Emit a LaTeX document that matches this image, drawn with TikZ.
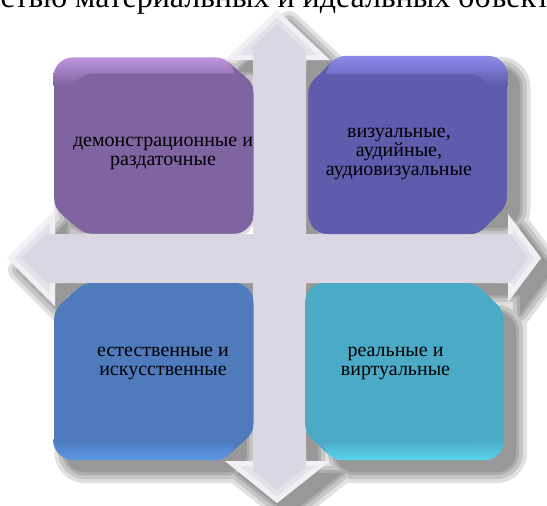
\documentclass[tikz,border=0pt]{standalone}
\usepackage{fontspec}
\setmainfont{Liberation Serif}
\usepackage{tikz}
\usetikzlibrary{backgrounds,calc,positioning}
\definecolor{tlbase}{HTML}{8064A2}
\definecolor{tllight}{HTML}{D4A6F2}
\definecolor{trbase}{HTML}{5F5BAD}
\definecolor{trlight}{HTML}{9C9CFF}
\definecolor{blbase}{HTML}{4F7BBD}
\definecolor{bllight}{HTML}{5EA6F8}
\definecolor{brbase}{HTML}{4BABC6}
\definecolor{brlight}{HTML}{60E8FF}
\definecolor{crossfill}{HTML}{DAD6E4}
\tikzset{%
    tile/.style={rounded corners=20pt,minimum width=181pt,minimum height=160pt,inner sep=0pt,
        align=center,text=black,font=\fontsize{20}{19}\selectfont},
}
\tikzstyle{bevel}=[white,line join=miter]
% four-way arrow, pixel coordinates
\newcommand{\crosspath}{(277,10) -- (330,60) -- (306,60) -- (306,234) -- (508,234) -- (508,214)
    -- (541,258) -- (508,302) -- (508,283) -- (306,283) -- (306,461) -- (330,461) -- (277,503)
    -- (225,461) -- (253,461) -- (253,283) -- (55,283) -- (55,306) -- (7,258) -- (55,210)
    -- (55,234) -- (253,234) -- (253,60) -- (225,60) -- cycle}
\newcommand{\tilerect}[3]{([shift={(#2,#3)}]#1.north west) rectangle ([shift={(#2,#3)}]#1.south east)}

\begin{document}
\begin{tikzpicture}[x=1pt,y=-1pt]
    \path[use as bounding box,clip] (0,0) rectangle (547,506);
    \node[tile,fill=tlbase] (tl) at (163,153.5) {демонстрационные и\\раздаточные};
    \node[tile,fill=trbase] (tr) at (399,154) {визуальные,\\аудийные,\\аудиовизуальные};
    \node[tile,fill=blbase] (bl) at (163,363) {естественные и\\искусственные};
    \node[tile,fill=brbase] (br) at (395.5,363) {реальные и\\виртуальные};
    % heading of the page, cut by the frame
    \node[anchor=base west,font=\fontsize{32}{32}\selectfont] (head) at (-3,8) {стью материальных и идеальных объект};

    \begin{pgfonlayer}{background}
        % drop shadow (node anchors are not shifted, so the offset goes in \tilerect)
        \foreach \w in {22,14,6,0.5}{
            \begin{scope}[transparency group,opacity=0.12]
                \filldraw[black,line width=\w pt,line join=round,shift={(12,12)}] \crosspath;
                \filldraw[black,line width=\w pt,rounded corners=20pt] \tilerect{tl}{-7}{-4} \tilerect{tr}{30}{-6}
                    \tilerect{bl}{-7}{29} \tilerect{br}{30}{29};
            \end{scope}
        }
        % extruded tiles
        \foreach \n/\dx/\dy/\c in {tl/-19/-16/tlbase,tr/18/-18/trbase,bl/-19/17/blbase,br/18/17/brbase}{
            \foreach \t in {0,0.05,...,1.0}
                \fill[\c,rounded corners=20pt] \tilerect{\n}{\t*\dx}{\t*\dy};
        }
        \begin{scope}
            \clip[rounded corners=20pt] \tilerect{tl}{-19}{-16};
            \shade[top color=tllight,bottom color=tlbase] ([shift={(-19,-26)}]tl.north west) rectangle ([shift={(0,12)}]tl.north east);
        \end{scope}
        \begin{scope}
            \clip[rounded corners=20pt] \tilerect{tr}{18}{-18};
            \shade[top color=trlight,bottom color=trbase] ([shift={(0,-28)}]tr.north west) rectangle ([shift={(18,12)}]tr.north east);
        \end{scope}
        \begin{scope}
            \clip[rounded corners=20pt] \tilerect{bl}{-19}{17};
            \shade[top color=blbase,bottom color=bllight] ([shift={(-19,-4)}]bl.south west) rectangle ([shift={(0,27)}]bl.south east);
        \end{scope}
        \begin{scope}
            \clip[rounded corners=20pt] \tilerect{br}{18}{17};
            \shade[top color=brbase,bottom color=brlight] ([shift={(0,-4)}]br.south west) rectangle ([shift={(18,27)}]br.south east);
        \end{scope}
        % the arrow and its bevel
        \fill[crossfill] \crosspath;
        \begin{scope}
            \clip \crosspath;
            \foreach \w/\o in {20/0.3,10/0.5}{
                \draw[bevel,line width=\w pt,opacity=\o] (253,60) -- (225,60) -- (277,10) -- (330,60) -- (306,60);
                \draw[bevel,line width=\w pt,opacity=\o] (253,461) -- (225,461) -- (277,503) -- (330,461) -- (306,461);
                \draw[bevel,line width=\w pt,opacity=\o] (55,234) -- (55,210) -- (7,258) -- (55,306) -- (55,283);
                \draw[bevel,line width=\w pt,opacity=\o] (508,234) -- (508,214) -- (541,258) -- (508,302) -- (508,283);
            }
        \end{scope}
    \end{pgfonlayer}
\end{tikzpicture}
\end{document}
